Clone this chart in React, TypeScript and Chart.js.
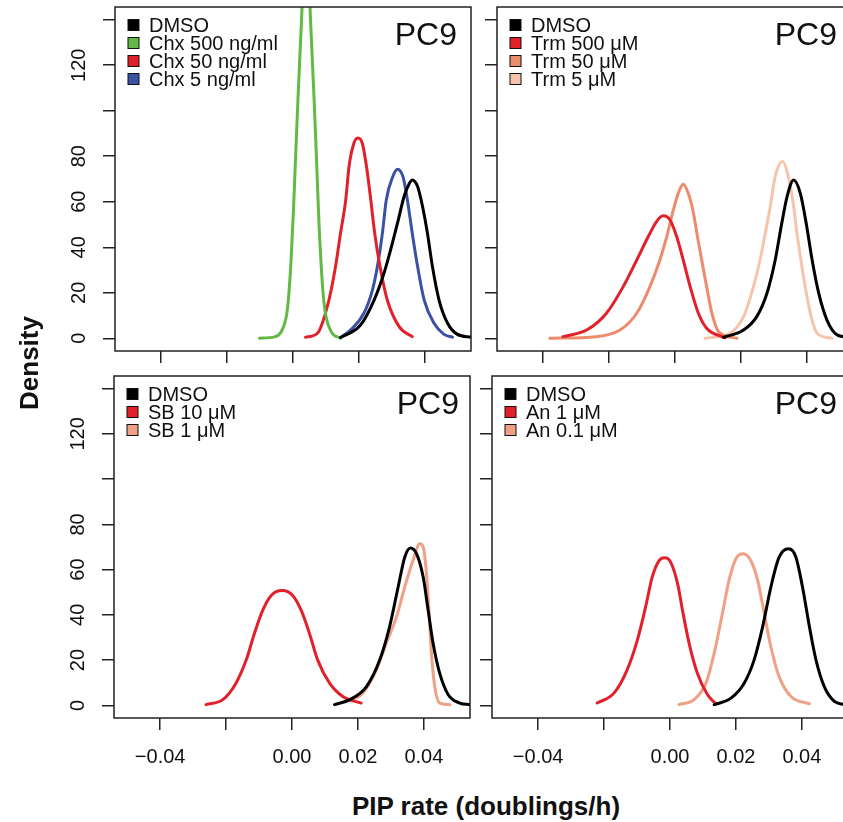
import React, { useEffect, useRef } from 'react';
import { Chart, registerables } from 'chart.js';

Chart.register(...registerables);

// ---------- axes ----------
const X_TICKS = [-0.04, -0.02, 0, 0.02, 0.04];
const X_TICK_LABELS = ['\u22120.04', '', '0.00', '0.02', '0.04'];
const Y_TICKS = [0, 20, 40, 60, 80, 100, 120, 140];
const Y_TICK_LABELS = ['0', '20', '40', '60', '80', '', '120', ''];
const X_MIN = -0.054;
const X_MAX = 0.054;
const Y_MIN = -5.6;
const Y_MAX = 145.6;

const PANEL_TITLE = 'PC9';
const X_TITLE = 'PIP rate (doublings/h)';
const Y_TITLE = 'Density';

// ---------- panel 1: Chx ----------
const chxLabels = ['DMSO', 'Chx 500 ng/ml', 'Chx 50 ng/ml', 'Chx 5 ng/ml'];
const chxDmsoX = [0.0144, 0.0205, 0.0246, 0.0276, 0.0296, 0.0317, 0.0337, 0.0352, 0.0362, 0.0378, 0.0393, 0.0408, 0.0423, 0.0443, 0.0469, 0.0499, 0.054];
const chxDmsoY = [0.3, 5.8, 16.8, 28.6, 38.8, 50.6, 62.3, 67.8, 69.6, 66.7, 57.9, 46, 31.5, 16.8, 6.6, 1.7, 0.5];
const chx500X = [-0.0102, -0.0056, -0.0035, -0.0021, -0.0014, -0.0006, 0.0001, 0.0008, 0.0015, 0.0024, 0.004, 0.0055, 0.0064, 0.0071, 0.0079, 0.0093, 0.0114, 0.0144];
const chx500Y = [0, 0.6, 3, 9, 17, 34, 55, 80, 105, 134, 176, 134, 105, 80, 50, 17, 3.5, 0];
const chx50X = [0.0038, 0.0074, 0.0109, 0.0129, 0.0144, 0.016, 0.017, 0.0185, 0.0197, 0.021, 0.0223, 0.0236, 0.0248, 0.0264, 0.0286, 0.0322, 0.0362];
const chx50Y = [0.5, 2.2, 16.8, 31.5, 46, 60.8, 75.5, 85.8, 88, 85.8, 75.5, 60.8, 46, 31.5, 16.8, 5.1, 0.7];
const chx5X = [0.0144, 0.0175, 0.0215, 0.0241, 0.0256, 0.0271, 0.0283, 0.0302, 0.0317, 0.0334, 0.0347, 0.0362, 0.0378, 0.0398, 0.0428, 0.0458, 0.0484];
const chx5Y = [0.3, 3.7, 11, 21.2, 31.5, 46, 60.8, 70.8, 74.3, 70.8, 60.8, 46, 31.5, 16.8, 6.6, 1.7, 0.5];

// ---------- panel 2: Trm ----------
const trmLabels = ['DMSO', 'Trm 500 \u03bcM', 'Trm 50 \u03bcM', 'Trm 5 \u03bcM'];
const trmDmsoX = [0.0147, 0.0208, 0.0248, 0.0279, 0.0304, 0.0324, 0.034, 0.036, 0.038, 0.0398, 0.0416, 0.0436, 0.0461, 0.0492, 0.0532];
const trmDmsoY = [0.4, 3.6, 9.5, 19.8, 34.4, 50.6, 62.3, 69.6, 63.8, 50.6, 34.4, 19.8, 8, 1.5, 0.4];
const trm500X = [-0.034, -0.0268, -0.0208, -0.0157, -0.0116, -0.0081, -0.0056, -0.0036, -0.0015, 0.0005, 0.0025, 0.0046, 0.0071, 0.0096, 0.0152];
const trm500Y = [0.7, 3.6, 11, 22.7, 34.4, 44.7, 51.3, 53.8, 52, 44.7, 34.4, 22.7, 11, 4.4, 0.2];
const trm50X = [-0.038, -0.0238, -0.0167, -0.0116, -0.0076, -0.0046, -0.0025, -0.0005, 0.001, 0.0025, 0.004, 0.0056, 0.0068, 0.0081, 0.0096, 0.0112, 0.0132, 0.0188];
const trm50Y = [0, 0.7, 3.6, 11, 22.7, 34.4, 44.7, 56.4, 63.8, 67.7, 63.8, 55, 44.7, 34.4, 22.7, 11, 2.9, 0];
const trm5X = [0.0091, 0.0167, 0.0208, 0.0238, 0.0258, 0.0274, 0.0289, 0.0304, 0.0326, 0.0344, 0.036, 0.037, 0.0382, 0.0395, 0.0413, 0.0431, 0.0476];
const trm5Y = [0, 2.2, 9.5, 22.7, 34.4, 46.2, 57.9, 71.1, 77.7, 71.1, 57.9, 46.2, 34.4, 22.7, 9.5, 2.2, 0];

// ---------- panel 3: SB ----------
const sbLabels = ['DMSO', 'SB 10 \u03bcM', 'SB 1 \u03bcM'];
const sbDmsoX = [0.0129, 0.0175, 0.0226, 0.0266, 0.0296, 0.0322, 0.0342, 0.0359, 0.0378, 0.0398, 0.0413, 0.0428, 0.0448, 0.0474, 0.0509, 0.054];
const sbDmsoY = [0.3, 2.5, 8.3, 20, 34.7, 52.3, 65.5, 69.6, 67, 56.7, 42, 27.4, 14.2, 4.7, 1, 0.3];
const sb10X = [-0.0261, -0.021, -0.017, -0.0139, -0.0114, -0.0089, -0.0063, -0.003, 0.0002, 0.0028, 0.0053, 0.0078, 0.0114, 0.0154, 0.021];
const sb10Y = [0.3, 2.5, 9.8, 20, 31.8, 42, 48.6, 50.8, 48.6, 42, 31.8, 20, 9.8, 3.9, 1];
const sb1X = [0.0165, 0.0215, 0.0256, 0.0286, 0.0317, 0.0342, 0.0367, 0.0388, 0.0398, 0.0408, 0.0416, 0.0423, 0.0433, 0.0448, 0.0479];
const sb1Y = [1.7, 5.4, 15.7, 27.4, 39.1, 52.3, 64, 71.4, 70, 58.2, 40.6, 23, 8.3, 1, 0.3];

// ---------- panel 4: An ----------
const anLabels = ['DMSO', 'An 1 \u03bcM', 'An 0.1 \u03bcM'];
const anDmsoX = [0.0134, 0.0185, 0.0225, 0.0255, 0.0281, 0.0306, 0.0331, 0.036, 0.0382, 0.0402, 0.0423, 0.0443, 0.0468, 0.0499, 0.0529];
const anDmsoY = [0.3, 3.2, 9.8, 20, 34.7, 52.3, 65.5, 69.2, 65.5, 52.3, 34.7, 20, 8.3, 1.7, 0.3];
const an1X = [-0.0221, -0.017, -0.013, -0.0099, -0.0074, -0.0054, -0.0033, -0.0016, 0.0002, 0.0023, 0.0038, 0.0058, 0.0083, 0.0114, 0.0139];
const an1Y = [1, 5.4, 15.7, 28.8, 43.5, 56.7, 64, 65.2, 63.3, 53.8, 42, 27.4, 14.2, 4.7, 0.7];
const an01X = [0.0027, 0.0073, 0.0109, 0.0134, 0.0159, 0.0179, 0.02, 0.0222, 0.0245, 0.0266, 0.0286, 0.0306, 0.0331, 0.0367, 0.0423];
const an01Y = [0.3, 2.5, 9.8, 23, 40.6, 55.2, 64.8, 67, 64, 55.2, 40.6, 25.9, 12.7, 3.9, 0.7];

// ---------- colours ----------
const C_BLACK = '#000000';
const C_GREEN = '#63B946';
const C_RED = '#E2202A';
const C_BLUE = '#3A52A3';
const C_SALMON = '#EC8C6D';
const C_PALE = '#F7C4AB';
const C_SALMON2 = '#F0A084';

const FONT = '"Liberation Sans", Arial, Helvetica, sans-serif';

type Series = { label: string; x: number[]; y: number[]; color: string };
type Box = { x: number; y: number; w: number; h: number };

function mk(labels: string[], xs: number[][], ys: number[][], colors: string[]): Series[] {
  return labels.map((label, i) => ({ label, x: xs[i], y: ys[i], color: colors[i] }));
}

const PAD_L = 90;
const PAD_T = 5;
const PAD_R = 5;
const PAD_B = 70;

function Panel(props: { box: Box; series: Series[]; showX: boolean; showY: boolean; titleInset: number }) {
  const ref = useRef<HTMLCanvasElement | null>(null);
  const { box, series, showX, showY, titleInset } = props;
  const cw = box.w + PAD_L + PAD_R;
  const ch = box.h + PAD_T + PAD_B;

  useEffect(() => {
    if (!ref.current) return;
    const decor = {
      id: 'panelDecor',
      afterDatasetsDraw(chart: any) {
        const { ctx, chartArea: a, scales } = chart;
        ctx.save();
        ctx.strokeStyle = '#222';
        ctx.lineWidth = 1.5;
        ctx.strokeRect(a.left, a.top, a.right - a.left, a.bottom - a.top);

        // legend
        ctx.font = '20px ' + FONT;
        ctx.textAlign = 'left';
        ctx.textBaseline = 'alphabetic';
        series.forEach((s, i) => {
          const cy = a.top + 18 + i * 18;
          ctx.fillStyle = s.color;
          ctx.fillRect(a.left + 13, cy - 5.5, 11, 11);
          ctx.strokeStyle = '#111';
          ctx.lineWidth = 1;
          ctx.strokeRect(a.left + 13, cy - 5.5, 11, 11);
          ctx.fillStyle = '#111';
          ctx.fillText(s.label, a.left + 34, cy + 7);
        });

        // panel title
        ctx.font = '32px ' + FONT;
        ctx.textAlign = 'right';
        ctx.fillStyle = '#111';
        ctx.fillText(PANEL_TITLE, a.right - titleInset, a.top + 38);

        // rotated y tick labels
        if (showY) {
          const ys = scales.y;
          ctx.font = '20px ' + FONT;
          ctx.textAlign = 'center';
          Y_TICKS.forEach((v, i) => {
            const lab = Y_TICK_LABELS[i];
            if (!lab) return;
            const py = ys.getPixelForValue(v);
            ctx.save();
            ctx.translate(a.left - 30, py);
            ctx.rotate(-Math.PI / 2);
            ctx.fillText(lab, 0, 0);
            ctx.restore();
          });
        }
        ctx.restore();
      },
    };

    const chart = new Chart(ref.current, {
      type: 'line',
      data: {
        datasets: series.map((s) => ({
          label: s.label,
          data: s.x.map((x, i) => ({ x, y: s.y[i] })),
          borderColor: s.color,
          backgroundColor: s.color,
          borderWidth: 3,
          pointRadius: 0,
          fill: false,
          cubicInterpolationMode: 'monotone',
          borderCapStyle: 'round',
          borderJoinStyle: 'round',
          clip: 0,
        })),
      },
      options: {
        responsive: false,
        animation: false,
        events: [],
        layout: { padding: { top: PAD_T, right: PAD_R, left: 0, bottom: 0 } },
        plugins: { legend: { display: false }, tooltip: { enabled: false } },
        scales: {
          x: {
            type: 'linear',
            min: X_MIN,
            max: X_MAX,
            afterBuildTicks: (s: any) => {
              s.ticks = X_TICKS.map((v) => ({ value: v }));
            },
            afterFit: (s: any) => {
              s.height = PAD_B;
            },
            grid: { drawOnChartArea: false, drawTicks: true, tickLength: 12, color: '#222', lineWidth: 1.5 },
            border: { display: false },
            ticks: {
              display: showX,
              padding: 15,
              color: '#111',
              font: { family: FONT, size: 20 },
              maxRotation: 0,
              minRotation: 0,
              autoSkip: false,
              callback: (v: any) => {
                const idx = X_TICKS.findIndex((t) => Math.abs(t - Number(v)) < 1e-9);
                return idx >= 0 ? X_TICK_LABELS[idx] : '';
              },
            },
          },
          y: {
            type: 'linear',
            min: Y_MIN,
            max: Y_MAX,
            afterBuildTicks: (s: any) => {
              s.ticks = Y_TICKS.map((v) => ({ value: v }));
            },
            afterFit: (s: any) => {
              s.width = PAD_L;
            },
            grid: { drawOnChartArea: false, drawTicks: true, tickLength: 12, color: '#222', lineWidth: 1.5 },
            border: { display: false },
            ticks: { display: false },
          },
        },
      } as any,
      plugins: [decor],
    });
    return () => chart.destroy();
  }, []);

  return (
    <canvas
      ref={ref}
      width={cw}
      height={ch}
      style={{ position: 'absolute', left: box.x - PAD_L, top: box.y - PAD_T, width: cw, height: ch }}
    />
  );
}

export default function App() {
  const p1 = mk(chxLabels, [chxDmsoX, chx500X, chx50X, chx5X], [chxDmsoY, chx500Y, chx50Y, chx5Y], [C_BLACK, C_GREEN, C_RED, C_BLUE]);
  const p2 = mk(trmLabels, [trmDmsoX, trm500X, trm50X, trm5X], [trmDmsoY, trm500Y, trm50Y, trm5Y], [C_BLACK, C_RED, C_SALMON, C_PALE]);
  const p3 = mk(sbLabels, [sbDmsoX, sb10X, sb1X], [sbDmsoY, sb10Y, sb1Y], [C_BLACK, C_RED, C_SALMON2]);
  const p4 = mk(anLabels, [anDmsoX, an1X, an01X], [anDmsoY, an1Y, an01Y], [C_BLACK, C_RED, C_SALMON2]);

  return (
    <div
      style={{
        position: 'absolute',
        left: 0,
        top: 0,
        width: 843,
        height: 822,
        overflow: 'hidden',
        background: '#fff',
      }}
    >
      <Panel box={{ x: 115, y: 7, w: 356, h: 344 }} series={p1} showX={false} showY={true} titleInset={14} />
      <Panel box={{ x: 497, y: 7, w: 356, h: 344 }} series={p2} showX={false} showY={false} titleInset={16} />
      <Panel box={{ x: 114, y: 376, w: 356, h: 342 }} series={p3} showX={true} showY={true} titleInset={11} />
      <Panel box={{ x: 492, y: 376, w: 356, h: 342 }} series={p4} showX={true} showY={false} titleInset={11} />
      <div
        style={{
          position: 'absolute',
          left: 27 - 100,
          top: 363 - 13,
          width: 200,
          height: 26,
          lineHeight: '26px',
          textAlign: 'center',
          font: 'bold 26px ' + FONT,
          color: '#111',
          transform: 'rotate(-90deg)',
          whiteSpace: 'nowrap',
        }}
      >
        {Y_TITLE}
      </div>
      <div
        style={{
          position: 'absolute',
          left: 486 - 200,
          top: 791,
          width: 400,
          height: 26,
          lineHeight: '26px',
          textAlign: 'center',
          font: 'bold 26px ' + FONT,
          color: '#111',
          whiteSpace: 'nowrap',
        }}
      >
        {X_TITLE}
      </div>
    </div>
  );
}
